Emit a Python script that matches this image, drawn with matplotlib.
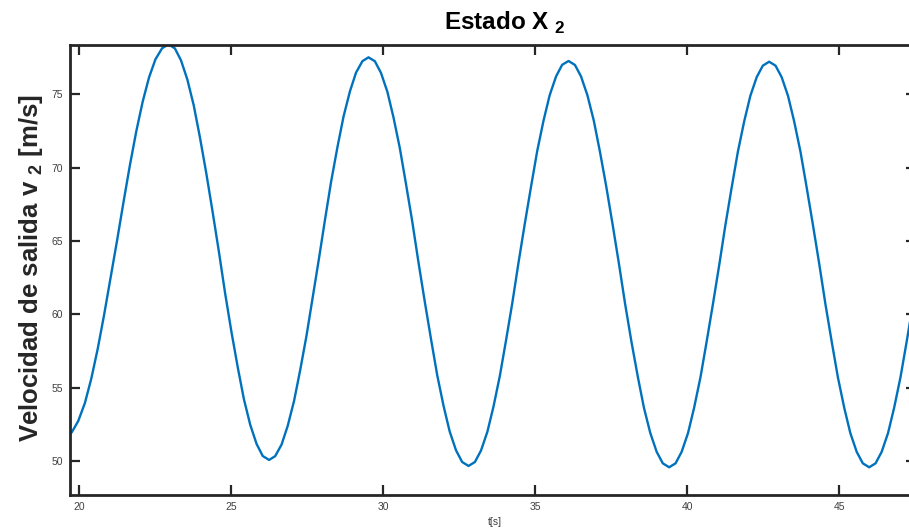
import matplotlib
matplotlib.use("Agg")
import matplotlib.pyplot as plt

# datos: tiempo [s] y velocidad de salida v2 [m/s]
t_s = [19.70, 19.76, 19.97, 20.19, 20.40, 20.61, 20.82, 21.03, 21.25, 21.46, 21.67, 21.88, 22.09, 22.30, 22.51, 22.73, 22.94,
       23.15, 23.35, 23.56, 23.77, 23.97, 24.18, 24.39, 24.60, 24.80, 25.01, 25.22, 25.42, 25.63, 25.84, 26.04, 26.25,
       26.45, 26.66, 26.86, 27.07, 27.27, 27.48, 27.68, 27.89, 28.09, 28.29, 28.50, 28.70, 28.91, 29.11, 29.32, 29.52,
       29.73, 29.93, 30.14, 30.34, 30.55, 30.75, 30.96, 31.16, 31.37, 31.58, 31.78, 31.99, 32.19, 32.40, 32.60, 32.81,
       33.02, 33.22, 33.43, 33.63, 33.84, 34.04, 34.25, 34.45, 34.66, 34.87, 35.07, 35.28, 35.48, 35.69, 35.89, 36.10,
       36.31, 36.51, 36.72, 36.93, 37.13, 37.34, 37.55, 37.76, 37.96, 38.17, 38.38, 38.58, 38.79, 39.00, 39.20, 39.41,
       39.62, 39.82, 40.03, 40.23, 40.44, 40.64, 40.85, 41.06, 41.26, 41.47, 41.67, 41.88, 42.08, 42.29, 42.49, 42.70,
       42.91, 43.11, 43.32, 43.52, 43.73, 43.93, 44.14, 44.35, 44.55, 44.76, 44.96, 45.17, 45.37, 45.58, 45.78, 45.99,
       46.20, 46.40, 46.61, 46.81, 47.02, 47.22, 47.43, 47.63]
v2 = [51.84, 51.96, 52.72, 53.95, 55.61, 57.63, 59.94, 62.45, 65.05, 67.65, 70.16, 72.47, 74.49, 76.15, 77.38, 78.14, 78.40,
      78.13, 77.32, 76.01, 74.25, 72.11, 69.66, 67.00, 64.24, 61.47, 58.81, 56.37, 54.22, 52.46, 51.15, 50.34, 50.07,
      50.33, 51.12, 52.38, 54.09, 56.17, 58.54, 61.12, 63.80, 66.47, 69.05, 71.42, 73.50, 75.21, 76.48, 77.26, 77.52,
      77.25, 76.46, 75.17, 73.44, 71.33, 68.92, 66.31, 63.59, 60.87, 58.26, 55.85, 53.74, 52.01, 50.72, 49.93, 49.66,
      49.93, 50.71, 51.99, 53.70, 55.80, 58.18, 60.77, 63.47, 66.16, 68.75, 71.14, 73.23, 74.94, 76.22, 77.01, 77.27,
      77.00, 76.22, 74.94, 73.21, 71.12, 68.72, 66.12, 63.42, 60.72, 58.12, 55.73, 53.63, 51.90, 50.62, 49.84, 49.57,
      49.84, 50.62, 51.90, 53.62, 55.71, 58.10, 60.70, 63.40, 66.09, 68.69, 71.08, 73.17, 74.89, 76.17, 76.95, 77.22,
      76.95, 76.17, 74.89, 73.17, 71.08, 68.69, 66.09, 63.40, 60.70, 58.10, 55.71, 53.62, 51.90, 50.62, 49.84, 49.57,
      49.84, 50.62, 51.90, 53.62, 55.71, 58.10, 60.70, 63.40]

x_ticks = [20, 25, 30, 35, 40, 45]
y_ticks = [50, 55, 60, 65, 70, 75]

titulo = "Estado X $_\\mathbf{2}$"
etiqueta_y = "Velocidad de salida v $_\\mathbf{2}$ [m/s]"
etiqueta_x = "t[s]"

plt.rcParams["font.family"] = ["Liberation Sans", "DejaVu Sans"]
plt.rcParams["mathtext.fontset"] = "custom"
plt.rcParams["mathtext.rm"] = "Liberation Sans"
plt.rcParams["mathtext.bf"] = "Liberation Sans:bold"

W, H = 909, 529
fig = plt.figure(figsize=(W / 100, H / 100), dpi=100)
# el eje derecho queda fuera de la imagen como en la original
ax = fig.add_axes([70 / W, 1 - 495 / H, (916 - 70) / W, (495 - 45) / H])

ax.plot(t_s, v2, color="#0072BD", linewidth=1.7)

ax.set_xlim(19.70, 47.53)
ax.set_ylim(47.68, 78.36)
ax.set_xticks(x_ticks)
ax.set_yticks(y_ticks)

for s in ax.spines.values():
    s.set_linewidth(2.0)
    s.set_color("#262626")
ax.tick_params(direction="in", length=7, width=1.6, color="#262626",
               top=True, right=True, labelsize=7.5, labelcolor="#404040")
ax.tick_params(axis="x", pad=5)
ax.tick_params(axis="y", pad=5)

# textos
fig.text(505 / W, 1 - 30 / H, titulo, ha="center", va="baseline",
         fontsize=17.5, fontweight="bold", color="black")
fig.text(38 / W, 1 - 268 / H, etiqueta_y, rotation=90, rotation_mode="anchor",
         ha="center", va="baseline", fontsize=18.5, fontweight="bold", color="#262626")
fig.text(495 / W, 1 - 522 / H, etiqueta_x, ha="center", va="center",
         fontsize=7.5, color="#404040")

fig.savefig("out.png", dpi=100)
